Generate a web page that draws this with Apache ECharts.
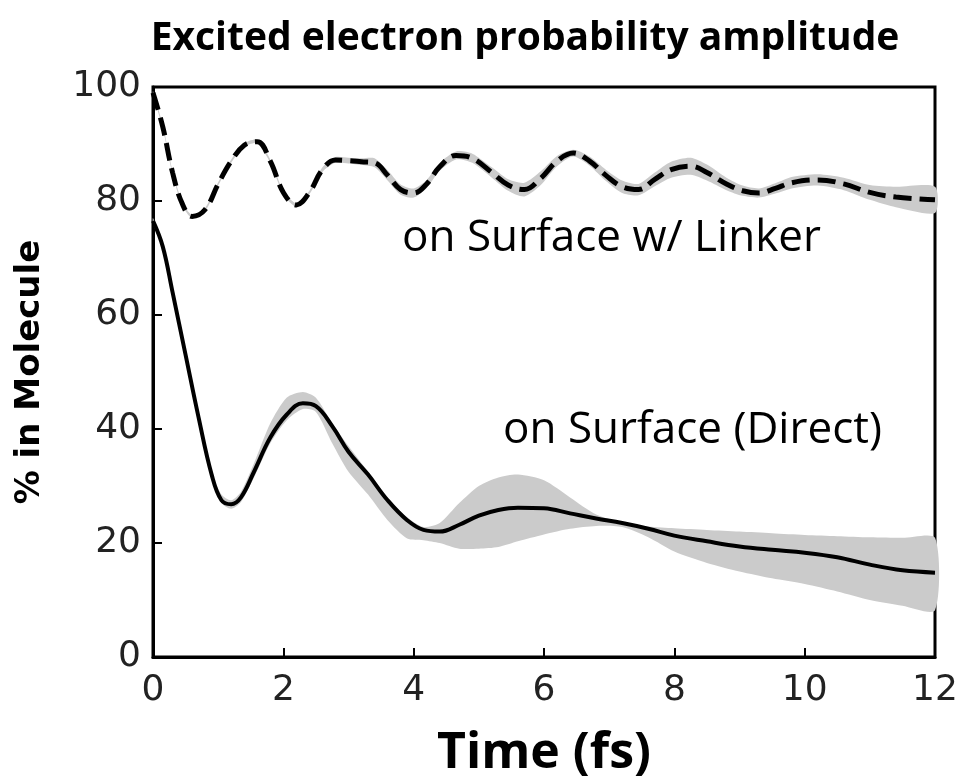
<!DOCTYPE html>
<html><head><meta charset="utf-8">
<script src="https://cdn.jsdelivr.net/npm/echarts@6/dist/echarts.min.js"></script>
<style>html,body{margin:0;padding:0;background:#fff}#c{width:965px;height:783px}</style>
</head><body><div id="c"></div>
<script>
// Linker curve (dashed)
const linkT = [0,0.15,0.3,0.45,0.6,0.8,1.0,1.2,1.4,1.6,1.8,2.0,2.2,2.4,2.6,2.8,3.0,3.2,3.4,3.6,3.8,4.0,4.2,4.4,4.65,4.9,5.2,5.45,5.7,5.95,6.2,6.45,6.7,6.95,7.2,7.45,7.7,7.95,8.25,8.5,8.8,9.05,9.3,9.55,9.8,10.2,10.6,11.0,11.4,12.0];
const linkMean = [99,93,85,79.5,77.3,78.5,83,87,89.8,90.4,87,81.5,79.3,81.5,85.5,87.2,87.1,86.9,86.7,84.5,82,81.4,83,86,88,87.5,85,82.8,82,84,87,88.4,87,84.5,82.5,82,83.8,85.5,86.1,85,83,81.8,81.4,82.2,83.2,83.7,83,81.5,80.7,80.2];
const linkHalf = [0.3,0.3,0.3,0.3,0.3,0.3,0.3,0.3,0.3,0.3,0.3,0.3,0.3,0.3,0.4,0.5,0.5,0.6,0.8,0.9,0.9,0.8,0.7,0.7,0.7,0.8,0.9,1.0,1.2,1.2,0.9,0.6,0.8,1.0,1.1,1.0,1.2,1.4,1.5,1.4,1.1,0.9,0.8,0.9,1.0,1.0,1.1,1.3,1.8,2.3];
// Direct curve (solid)
const directT = [0,0.15,0.3,0.5,0.7,0.9,1.05,1.2,1.35,1.55,1.8,2.05,2.3,2.5,2.75,3.0,3.3,3.6,3.9,4.15,4.4,4.7,5.0,5.3,5.6,6.0,6.4,6.8,7.2,7.6,8.0,8.5,9.0,9.5,10.0,10.5,11.0,11.5,12.0];
const directMean = [76.5,72,64,53,42,32,27.5,26.8,28,32.5,38.5,42.5,44.5,44,40.5,36,32,27.5,24,22.3,22,23.2,24.8,25.8,26.2,26.1,25.2,24.3,23.5,22.5,21.3,20.3,19.4,18.8,18.3,17.5,16.2,15.2,14.8];
const directUpper = [77,72.5,64.5,53.5,42.5,32.5,28.5,27.5,29,34,41,45.5,46.5,45.5,41,37,32.5,28,24.5,22.8,23.5,27,30,31.5,32,31,28,25,23.6,22.9,22.6,22.3,22,21.7,21.4,21.2,21,20.9,20.9];
const directLower = [76,71.5,63.5,52.5,41.5,31.5,27,26,27.2,31.5,37.5,41.5,43.5,43,37.5,32.5,28.5,24,20.8,20.5,20,19,19,19.3,20.3,21.5,22.5,23,22.8,21,18.5,16.5,15,13.8,12.8,11.5,10,9,8.2];
// Axis ticks
const xTicks = [0,2,4,6,8,10,12];
const yTicks = [0,20,40,60,80,100];

const linkLine = linkT.map((t,i)=>[t,linkMean[i]]);
const linkUp = linkT.map((t,i)=>[t,linkMean[i]+linkHalf[i]]);
const linkLo = linkT.map((t,i)=>[t,linkMean[i]-linkHalf[i]]);
const dirLine = directT.map((t,i)=>[t,directMean[i]]);
const dirUp = directT.map((t,i)=>[t,directUpper[i]]);
const dirLo = directT.map((t,i)=>[t,directLower[i]]);

function bandSeries(up, lo){
  return {
    type:'custom', silent:true, z:1,
    data:[[0,0]],
    renderItem:function(params, api){
      const pts = up.map(p=>api.coord(p)).concat(lo.slice().reverse().map(p=>api.coord(p)));
      return {type:'polygon', shape:{points:pts, smooth:0.25}, style:{fill:'#cbcbcb', stroke:null}};
    }
  };
}

const chart = echarts.init(document.getElementById('c'));
chart.setOption({
  animation:false,
  backgroundColor:'#fff',
  title:{text:'Excited electron probability amplitude', left:520, top:14, textAlign:'center',
    textStyle:{fontFamily:'Open Sans', fontWeight:'bold', fontSize:39, color:'#000'}},
  grid:{left:153, right:30, top:87, bottom:126, show:true, borderColor:'#000', borderWidth:3,
    containLabel:false, outerBoundsMode:'none'},
  xAxis:{type:'value', min:0, max:12, interval:2,
    name:'Time (fs)', nameLocation:'middle', nameGap:72,
    nameTextStyle:{fontFamily:'Open Sans', fontWeight:'bold', fontSize:50, color:'#000'},
    axisLine:{show:true, lineStyle:{color:'#000', width:3}},
    axisTick:{show:true, inside:true, length:9, lineStyle:{color:'#000', width:2}},
    splitLine:{show:false},
    axisLabel:{fontFamily:'DejaVu Sans', fontSize:36, color:'#222', margin:16,
      formatter:v=>xTicks.includes(v)?String(v):''}},
  yAxis:{type:'value', min:0, max:100, interval:20,
    name:'% in Molecule', nameLocation:'middle', nameGap:106, nameRotate:90,
    nameTextStyle:{fontFamily:'DejaVu Sans', fontWeight:'bold', fontSize:34, color:'#000'},
    axisLine:{show:true, lineStyle:{color:'#000', width:3}},
    axisTick:{show:true, inside:true, length:9, lineStyle:{color:'#000', width:2}},
    splitLine:{show:false},
    axisLabel:{fontFamily:'DejaVu Sans', fontSize:36, color:'#222', margin:12,
      formatter:v=>yTicks.includes(v)?String(v):''}},
  series:[
    bandSeries(linkUp, linkLo),
    bandSeries(dirUp, dirLo),
    {type:'line', data:linkLine, smooth:0.4, symbol:'none', z:3,
      lineStyle:{color:'#000', width:5, type:[18,8]}},
    {type:'line', data:dirLine, smooth:0.4, symbol:'none', z:3,
      lineStyle:{color:'#000', width:4}}
  ],
  graphic:[
    {type:'text', left:402, top:216, style:{text:'on Surface w/ Linker', font:'44px "Open Sans"', fill:'#000'}},
    {type:'text', left:503, top:408, style:{text:'on Surface (Direct)', font:'44px "Open Sans"', fill:'#000'}}
  ]
});
</script></body></html>
